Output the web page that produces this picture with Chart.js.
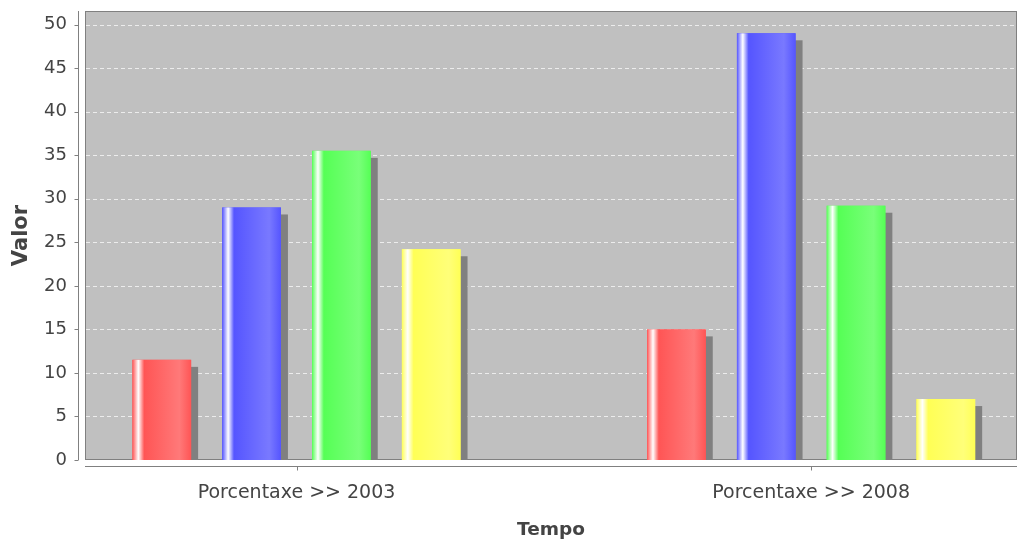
<!DOCTYPE html>
<html>
<head>
<meta charset="utf-8">
<script src="https://cdn.jsdelivr.net/npm/chart.js@4.4.1/dist/chart.umd.min.js"></script>
<style>
    html, body { margin: 0; padding: 0; background: #fff; }
    #wrap { width: 1018px; height: 542px; }
</style>
</head>
<body>
<div id="wrap"><canvas id="grafico"></canvas></div>
<script>
const categorias = ['Porcentaxe >> 2003', 'Porcentaxe >> 2008'];
const serieVermella = [11.5, 15];
const serieAzul = [29, 49];
const serieVerde = [35.5, 29.2];
const serieAmarela = [24.2, 7];
const ticksValor = [0, 5, 10, 15, 20, 25, 30, 35, 40, 45, 50];

const series = [serieVermella, serieAzul, serieVerde, serieAmarela];
const cores = ['#ff5555', '#5555ff', '#55ff55', '#ffff55'];
const coresClaras = ['#ff7979', '#7979ff', '#79ff79', '#ffff79'];

const fonte = 'DejaVu Sans';
const corTexto = '#444444';

function rectBarra(bar) {
    const p = bar.getProps(['x', 'y', 'base', 'width'], true);
    return { left: p.x - p.width / 2, top: p.y, width: p.width, base: p.base };
}

const plotPlugin = {
    id: 'plotJFree',
    beforeDraw(chart) {
        const ctx = chart.ctx;
        const a = chart.chartArea;
        const xs = chart.scales.x;
        const ys = chart.scales.y;
        ctx.save();
        ctx.fillStyle = '#c0c0c0';
        ctx.fillRect(a.left, a.top, a.right - a.left, a.bottom - a.top);

        // liñas de grella discontinuas
        ctx.strokeStyle = '#ececec';
        ctx.lineWidth = 1;
        ctx.setLineDash([4, 3]);
        ys.ticks.forEach(function (t) {
            if (t.value === 0) return;
            const py = Math.round(ys.getPixelForValue(t.value)) + 0.5;
            ctx.beginPath();
            ctx.moveTo(a.left + 1, py);
            ctx.lineTo(a.right - 1, py);
            ctx.stroke();
        });
        ctx.setLineDash([]);

        ctx.strokeStyle = '#808080';
        ctx.strokeRect(a.left + 0.5, a.top + 0.5, a.right - a.left - 1, a.bottom - a.top - 1);

        // eixo Y separado do plot
        const ax = Math.round(a.left - 7) + 0.5;
        ctx.beginPath();
        ctx.moveTo(ax, a.top);
        ctx.lineTo(ax, a.bottom);
        ys.ticks.forEach(function (t) {
            const py = Math.round(ys.getPixelForValue(t.value)) + 0.5;
            ctx.moveTo(ax - 4, py);
            ctx.lineTo(ax, py);
        });
        ctx.stroke();

        // eixo X separado do plot
        const ay = Math.round(a.bottom + 6) + 0.5;
        ctx.beginPath();
        ctx.moveTo(a.left, ay);
        ctx.lineTo(a.right, ay);
        xs.ticks.forEach(function (t) {
            const px = Math.round(xs.getPixelForValue(t.value)) + 0.5;
            ctx.moveTo(px, ay);
            ctx.lineTo(px, ay + 4);
        });
        ctx.stroke();
        ctx.restore();
    },
    beforeDatasetsDraw(chart) {
        const ctx = chart.ctx;
        ctx.save();
        ctx.fillStyle = '#808080';
        chart.data.datasets.forEach(function (ds, i) {
            chart.getDatasetMeta(i).data.forEach(function (bar) {
                const r = rectBarra(bar);
                const h = r.base - r.top - 7;
                if (h > 0) ctx.fillRect(r.left + 7, r.top + 7, r.width, h);
            });
        });
        ctx.restore();
    },
    afterDatasetsDraw(chart) {
        const ctx = chart.ctx;
        ctx.save();
        chart.data.datasets.forEach(function (ds, i) {
            chart.getDatasetMeta(i).data.forEach(function (bar) {
                const r = rectBarra(bar);
                const grd = ctx.createLinearGradient(r.left, 0, r.left + r.width, 0);
                grd.addColorStop(0, cores[i]);
                grd.addColorStop(0.1, '#ffffff');
                grd.addColorStop(0.2, cores[i]);
                grd.addColorStop(0.8, coresClaras[i]);
                grd.addColorStop(1, cores[i]);
                ctx.fillStyle = grd;
                ctx.fillRect(r.left, r.top, r.width, r.base - r.top);
            });
        });
        ctx.restore();
    }
};

new Chart(document.getElementById('grafico').getContext('2d'), {
    type: 'bar',
    data: {
        datasets: series.map(function (serie, i) {
            return {
                data: serie.map(function (v, j) { return { x: j, y: v }; }),
                backgroundColor: cores[i],
                borderWidth: 0,
                categoryPercentage: 0.698,
                barPercentage: 0.653
            };
        })
    },
    options: {
        responsive: true,
        maintainAspectRatio: false,
        animation: false,
        layout: { padding: { top: 11, right: 1, left: 0, bottom: 0 } },
        plugins: { legend: { display: false }, tooltip: { enabled: false } },
        scales: {
            x: {
                type: 'linear',
                min: -0.411,
                max: 1.4,
                offset: false,
                afterBuildTicks: function (s) { s.ticks = categorias.map(function (c, i) { return { value: i }; }); },
                afterFit: function (s) {
                    s.height = 82;
                    s.paddingLeft = 0;
                    s.paddingRight = 0;
                },
                grid: { display: false, drawTicks: false, offset: false },
                border: { display: false },
                ticks: {
                    callback: function (v) { return categorias[v]; },
                    autoSkip: false,
                    maxRotation: 0,
                    padding: 22,
                    color: corTexto,
                    font: { family: fonte, size: 19 }
                },
                title: {
                    display: true,
                    text: 'Tempo',
                    color: corTexto,
                    font: { family: fonte, size: 18.5, weight: 'bold' },
                    padding: { top: 0, bottom: 1 }
                }
            },
            y: {
                min: 0,
                max: 51.56,
                afterBuildTicks: function (s) { s.ticks = ticksValor.map(function (v) { return { value: v }; }); },
                afterFit: function (s) {
                    s.width = 85;
                    s.paddingTop = 0;
                    s.paddingBottom = 0;
                },
                grid: { display: false, drawTicks: false },
                border: { display: false },
                ticks: {
                    padding: 18,
                    color: corTexto,
                    font: { family: fonte, size: 18 }
                },
                title: {
                    display: true,
                    text: 'Valor',
                    color: corTexto,
                    font: { family: fonte, size: 21, weight: 'bold' },
                    padding: { top: 9, bottom: 0 }
                }
            }
        }
    },
    plugins: [plotPlugin]
});
</script>
</body>
</html>
